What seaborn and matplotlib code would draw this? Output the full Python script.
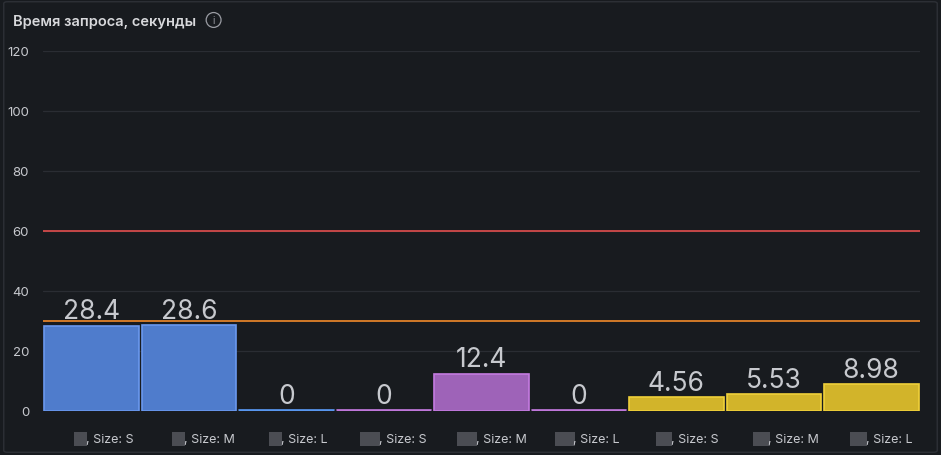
import matplotlib
matplotlib.use("Agg")
import matplotlib.pyplot as plt
import seaborn as sns
import pandas as pd
from matplotlib.patches import FancyBboxPatch

sizes = ["S", "M", "L", "S", "M", "L", "S", "M", "L"]
values = [28.4, 28.6, 0, 0, 12.4, 0, 4.56, 5.53, 8.98]
value_labels = ["28.4", "28.6", "0", "0", "12.4", "0", "4.56", "5.53", "8.98"]
name_widths = [3, 3, 3, 5, 5, 5, 4, 4, 4]
bar_colors = ["#4f7ccc", "#4f7ccc", "#4f7ccc", "#9e63b8", "#9e63b8", "#9e63b8",
              "#d2b42a", "#d2b42a", "#d2b42a"]
edge_colors = ["#6a98ee", "#6a98ee", "#5a9af5", "#c47ae0", "#c47ae0", "#c47ae0",
               "#efd03a", "#efd03a", "#efd03a"]
thresholds = [(30, "#e0822a"), (60, "#d24a4a")]
yticks = [0, 20, 40, 60, 80, 100, 120]

bg = "#181b1f"
txt = "#c7c9ce"

sns.set_theme(style="dark")
plt.rcParams["font.family"] = ["Inter", "DejaVu Sans"]

df = pd.DataFrame({"cat": [f"c{i}" for i in range(len(values))], "val": values})

fig = plt.figure(figsize=(9.41, 4.56), dpi=100, facecolor=bg)
frame = FancyBboxPatch((0.004, 0.006), 0.992, 0.988, boxstyle="round,pad=0,rounding_size=0.004",
                       transform=fig.transFigure, facecolor="none", edgecolor="#2d3036", lw=1,
                       zorder=10)
fig.patches.append(frame)
ax = fig.add_axes([0.0457, 0.0965, 0.932, 0.79])
ax.set_facecolor(bg)
sns.barplot(data=df, x="cat", y="val", ax=ax, width=0.97, palette=bar_colors, hue="cat",
            legend=False, saturation=1)
for p, ec in zip(ax.patches, edge_colors):
    p.set_edgecolor(ec)
    p.set_linewidth(1.2)
for i, (v, lab, ec) in enumerate(zip(values, value_labels, edge_colors)):
    if v == 0:
        ax.plot([i - 0.485, i + 0.485], [0.2, 0.2], color=ec, lw=1.2)
    ax.text(i, v + 0.5, lab, ha="center", va="bottom", fontsize=19, color=txt)

for y, c in thresholds:
    ax.axhline(y, color=c, lw=1.3)

ax.set_ylim(0, 120)
ax.set_xlim(-0.5, len(values) - 0.5)
ax.set_yticks(yticks)
ax.set_yticklabels([str(t) for t in yticks], color=txt, fontsize=9.5)
ax.grid(axis="y", color="#2a2d33", lw=0.9)
ax.grid(axis="x", visible=False)
ax.set_axisbelow(True)
for s in ax.spines.values():
    s.set_visible(False)
ax.tick_params(axis="y", length=0, pad=10)
ax.set_xticks([])
ax.set_xlabel("")
ax.set_ylabel("")

for i, (sz, w) in enumerate(zip(sizes, name_widths)):
    ax.annotate(" " * w, xy=(i, 0), xycoords=("data", "axes fraction"), xytext=(-4, -20),
                textcoords="offset points", ha="right", va="center", fontsize=9,
                bbox=dict(boxstyle="square,pad=0.1", fc="#4b4d53", ec="none"),
                annotation_clip=False)
    ax.annotate(f", Size: {sz}", xy=(i, 0), xycoords=("data", "axes fraction"), xytext=(-4, -20),
                textcoords="offset points", ha="left", va="center", fontsize=9, color=txt,
                annotation_clip=False)

fig.text(0.014, 0.952, "Время запроса, секунды", color="#d8d9dc", fontsize=10.5,
         fontweight="semibold", va="center")
# info icon: small "i" inside a circle
fig.text(0.227, 0.954, "i", color="#9a9ca3", fontsize=7, va="center", ha="center",
         bbox=dict(boxstyle="circle,pad=0.25", fc="none", ec="#9a9ca3", lw=0.9))

fig.savefig("out.png", dpi=100, facecolor=bg)
